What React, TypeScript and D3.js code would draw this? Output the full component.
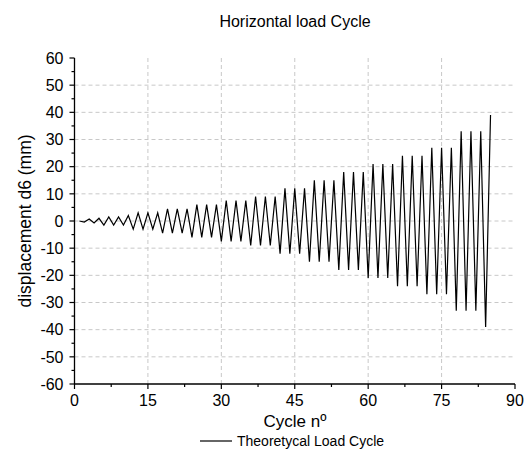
import React from "react";
import * as d3 from "d3";

const cycles: number[] = [
  1, 2, 3, 4, 5, 6, 7, 8, 9, 10, 11, 12, 13, 14, 15, 16, 17, 18, 19, 20,
  21, 22, 23, 24, 25, 26, 27, 28, 29, 30, 31, 32, 33, 34, 35, 36, 37, 38, 39, 40,
  41, 42, 43, 44, 45, 46, 47, 48, 49, 50, 51, 52, 53, 54, 55, 56, 57, 58, 59, 60,
  61, 62, 63, 64, 65, 66, 67, 68, 69, 70, 71, 72, 73, 74, 75, 76, 77, 78, 79, 80,
  81, 82, 83, 84, 85,
];

const displacement: number[] = [
  0, -0.4, 0.75, -0.75, 1, -1.5, 1.5, -1.5, 1.5, -1.5,
  2, -3, 3, -3, 3, -3, 3, -4.5, 4.5, -4.5,
  4.5, -4.5, 4.5, -6, 6, -6, 6, -6, 6, -7.5,
  7.5, -7.5, 7.5, -7.5, 7.5, -9, 9, -9, 9, -9,
  9, -12, 12, -12, 12, -12, 12, -15, 15, -15,
  15, -15, 15, -18, 18, -18, 18, -18, 18, -21,
  21, -21, 21, -21, 21, -24, 24, -24, 24, -24,
  24, -27, 27, -27, 27, -27, 27, -33, 33, -33,
  33, -33, 33, -39, 39,
];

const xTicks: number[] = [0, 15, 30, 45, 60, 75, 90];
const xMinorTicks: number[] = [7.5, 22.5, 37.5, 52.5, 67.5, 82.5];
const yTicks: number[] = [-60, -50, -40, -30, -20, -10, 0, 10, 20, 30, 40, 50, 60];
const yMinorTicks: number[] = [-55, -45, -35, -25, -15, -5, 5, 15, 25, 35, 45, 55];
const xGrid: number[] = [15, 30, 45, 60, 75];
const yGrid: number[] = [-50, -40, -30, -20, -10, 0, 10, 20, 30, 40, 50];

const title = "Horizontal load Cycle";
const xLabel = "Cycle nº";
const yLabel = "displacement d6 (mm)";
const legendLabel = "Theoretycal Load Cycle";

const FONT = "'Liberation Sans', Arial, sans-serif";

export default function App() {
  const W = 524;
  const H = 451;
  const x = d3.scaleLinear().domain([0, 90]).range([74.5, 515]);
  const y = d3.scaleLinear().domain([-60, 60]).range([384, 58]);
  const pts: [number, number][] = cycles.map((c, i) => [c, displacement[i]]);
  const line = d3
    .line<[number, number]>()
    .x((d) => x(d[0]))
    .y((d) => y(d[1]));

  const x0 = x(0);
  const yb = y(-60);

  return (
    <svg
      width={W}
      height={H}
      style={{ position: "absolute", left: 0, top: 0, background: "#fff" }}
      fontFamily={FONT}
    >
      <rect x={0} y={0} width={W} height={H} fill="#fff" />
      {/* grid */}
      {xGrid.map((t) => (
        <line
          key={"gx" + t}
          x1={x(t)}
          x2={x(t)}
          y1={y(60)}
          y2={yb}
          stroke="#c8c8c8"
          strokeWidth={1}
          strokeDasharray="4,3"
        />
      ))}
      {yGrid.map((t) => (
        <line
          key={"gy" + t}
          x1={x0}
          x2={x(90)}
          y1={y(t)}
          y2={y(t)}
          stroke="#c8c8c8"
          strokeWidth={1}
          strokeDasharray="4,3"
        />
      ))}
      {/* data */}
      <path d={line(pts) || ""} fill="none" stroke="#000" strokeWidth={1.2} strokeLinejoin="miter" />
      {/* axes */}
      <line x1={x0} x2={x0} y1={y(60)} y2={yb} stroke="#000" strokeWidth={1.3} />
      <line x1={x0} x2={x(90)} y1={yb} y2={yb} stroke="#000" strokeWidth={1.3} />
      {xTicks.map((t) => (
        <g key={"xt" + t}>
          <line x1={x(t)} x2={x(t)} y1={yb} y2={yb + 5} stroke="#000" strokeWidth={1.2} />
          <text x={x(t)} y={yb + 22} fontSize={16} textAnchor="middle" fill="#000">
            {t}
          </text>
        </g>
      ))}
      {xMinorTicks.map((t) => (
        <line key={"xm" + t} x1={x(t)} x2={x(t)} y1={yb} y2={yb + 3} stroke="#000" strokeWidth={1.2} />
      ))}
      {yTicks.map((t) => (
        <g key={"yt" + t}>
          <line x1={x0 - 5} x2={x0} y1={y(t)} y2={y(t)} stroke="#000" strokeWidth={1.2} />
          <text x={x0 - 11} y={y(t)} dy="0.36em" fontSize={16} textAnchor="end" fill="#000">
            {t}
          </text>
        </g>
      ))}
      {yMinorTicks.map((t) => (
        <line key={"ym" + t} x1={x0 - 3} x2={x0} y1={y(t)} y2={y(t)} stroke="#000" strokeWidth={1.2} />
      ))}
      {/* titles */}
      <text x={295} y={27} fontSize={16} textAnchor="middle" fill="#000">
        {title}
      </text>
      <text x={295} y={427} fontSize={17} textAnchor="middle" fill="#000">
        {xLabel}
      </text>
      <text
        transform={`translate(31, ${y(0)}) rotate(-90)`}
        fontSize={17.5}
        textAnchor="middle"
        fill="#000"
      >
        {yLabel}
      </text>
      {/* legend */}
      <line x1={200} x2={232} y1={441} y2={441} stroke="#000" strokeWidth={1.2} />
      <text x={237} y={446} fontSize={14} fill="#000">
        {legendLabel}
      </text>
    </svg>
  );
}
